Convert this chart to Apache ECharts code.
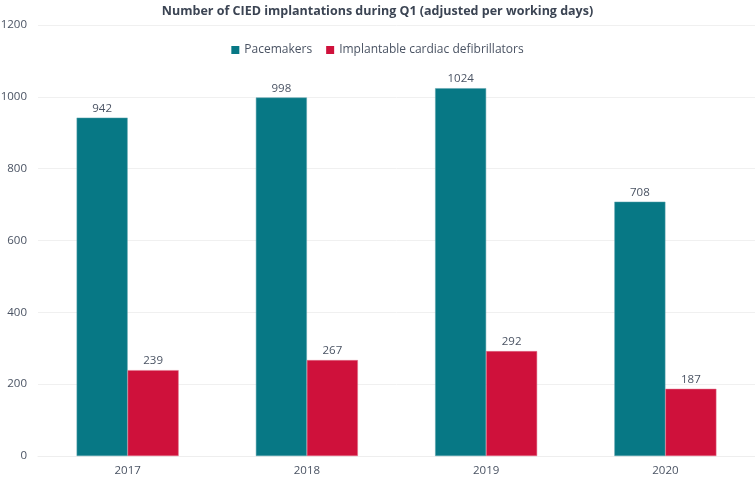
<!DOCTYPE html>
<html><head><meta charset="utf-8">
<script src="https://cdn.jsdelivr.net/npm/echarts@6/dist/echarts.min.js"></script>
<style>html,body{margin:0;padding:0;background:#fff}#c{width:755px;height:478px}</style>
</head><body><div id="c"></div>
<script>
const years = ['2017', '2018', '2019', '2020'];
const pacemakers = [942, 998, 1024, 708];
const icds = [239, 267, 292, 187];
const yTicks = [0, 200, 400, 600, 800, 1000, 1200];

const chart = echarts.init(document.getElementById('c'));
const txt = '#4a5363';
const font = "'Open Sans', sans-serif";
chart.setOption({
  backgroundColor: '#ffffff',
  animation: false,
  title: {
    text: 'Number of CIED implantations during Q1 (adjusted per working days)',
    left: 'center', top: 0,
    textStyle: { fontFamily: font, fontSize: 12.5, fontWeight: 'bold', color: '#3b4453' }
  },
  legend: {
    top: 39, left: 'center',
    itemWidth: 8, itemHeight: 8, itemGap: 14,
    icon: 'rect',
    itemStyle: { borderWidth: 0 },
    textStyle: { fontFamily: font, fontSize: 12, color: txt },
    data: ['Pacemakers', 'Implantable cardiac defibrillators']
  },
  grid: { left: 38, right: 0, top: 25, bottom: 22, outerBoundsMode: 'none', containLabel: false },
  xAxis: {
    type: 'category', data: years,
    axisLine: { show: true, lineStyle: { color: '#eeeeee' } },
    axisTick: { show: false },
    axisLabel: { fontFamily: font, fontSize: 11.5, color: txt, margin: 9 }
  },
  yAxis: {
    type: 'value', min: yTicks[0], max: yTicks[yTicks.length - 1], interval: 200,
    axisLine: { show: false }, axisTick: { show: false },
    splitLine: { lineStyle: { color: '#f0f0f0' } },
    axisLabel: { fontFamily: font, fontSize: 11.5, color: txt, margin: 11, formatter: v => String(v) }
  },
  series: [
    {
      name: 'Pacemakers', type: 'bar', data: pacemakers, barWidth: 51, barGap: '0%',
      itemStyle: { color: '#077885', borderColor: '#5aa3ad', borderWidth: 0.5 },
      label: { show: true, position: 'top', distance: 3, fontFamily: font, fontSize: 11.5, color: txt }
    },
    {
      name: 'Implantable cardiac defibrillators', type: 'bar', data: icds, barWidth: 51,
      itemStyle: { color: '#cf113b', borderColor: '#e0708a', borderWidth: 0.5 },
      label: { show: true, position: 'top', distance: 3, fontFamily: font, fontSize: 11.5, color: txt }
    }
  ]
});
</script></body></html>
